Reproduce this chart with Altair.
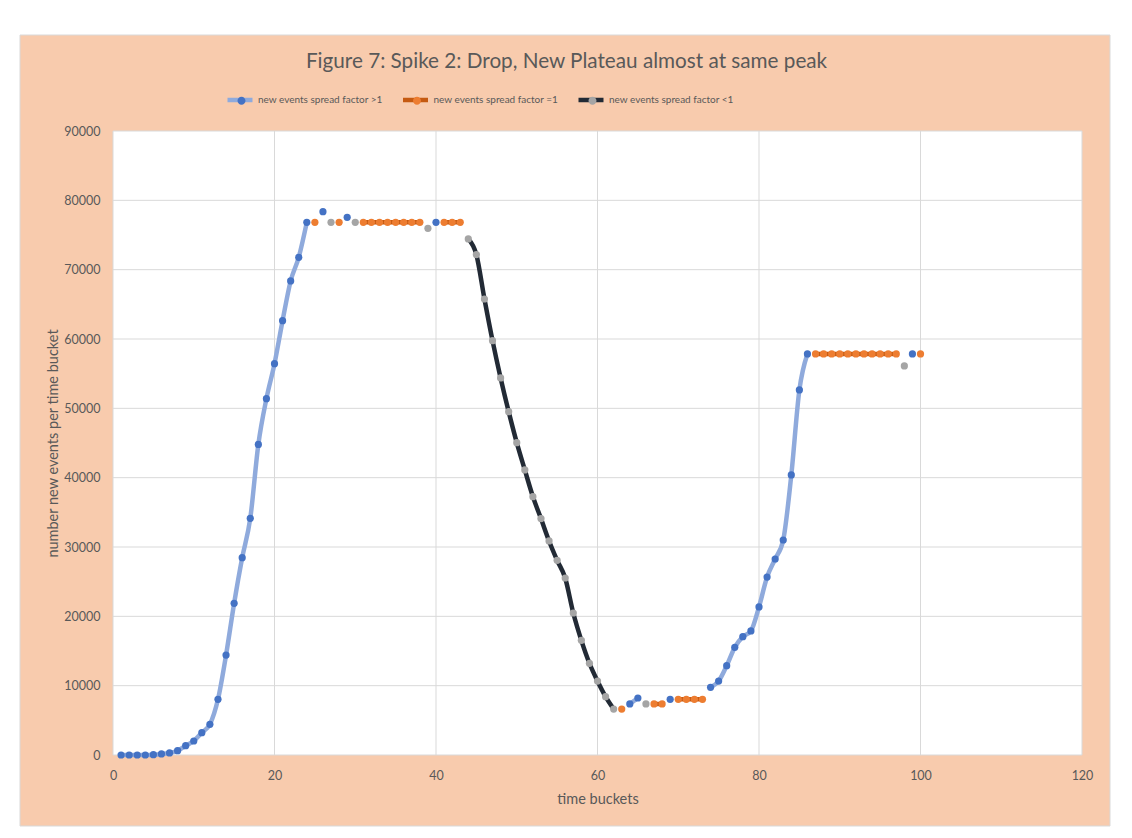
import altair as alt
import pandas as pd

# ---------------- data ----------------
buckets = list(range(1, 101))

values = [
    0, 0, 0, 0, 50, 150, 300, 620, 1340, 2020,                 # 1-10
    3220, 4420, 8030, 14420, 21880, 28460, 34140, 44800, 51390, 56440,   # 11-20
    62640, 68370, 71780, 76830, 76830, 78370, 76830, 76830, 77550, 76830,  # 21-30
    76830, 76830, 76830, 76830, 76830, 76830, 76830, 76830, 75960, 76830,  # 31-40
    76830, 76830, 76830, 74430, 72170, 65770, 59760, 54380, 49520, 45050,  # 41-50
    41110, 37260, 34100, 30870, 28080, 25530, 20480, 16540, 13230, 10670,  # 51-60
    8410, 6630, 6630, 7360, 8220, 7360, 7360, 7360, 8030, 8030,            # 61-70
    8030, 8030, 8030, 9760, 10670, 12880, 15530, 17070, 17890, 21350,      # 71-80
    25670, 28270, 31010, 40390, 52650, 57840, 57840, 57840, 57840, 57840,  # 81-90
    57840, 57840, 57840, 57840, 57840, 57840, 57840, 56110, 57840, 57840,  # 91-100
]

spread = [
    ">1", ">1", ">1", ">1", ">1", ">1", ">1", ">1", ">1", ">1",
    ">1", ">1", ">1", ">1", ">1", ">1", ">1", ">1", ">1", ">1",
    ">1", ">1", ">1", ">1", "=1", ">1", "<1", "=1", ">1", "<1",
    "=1", "=1", "=1", "=1", "=1", "=1", "=1", "=1", "<1", ">1",
    "=1", "=1", "=1", "<1", "<1", "<1", "<1", "<1", "<1", "<1",
    "<1", "<1", "<1", "<1", "<1", "<1", "<1", "<1", "<1", "<1",
    "<1", "<1", "=1", ">1", ">1", "<1", "=1", "=1", ">1", "=1",
    "=1", "=1", "=1", ">1", ">1", ">1", ">1", ">1", ">1", ">1",
    ">1", ">1", ">1", ">1", ">1", ">1", "=1", "=1", "=1", "=1",
    "=1", "=1", "=1", "=1", "=1", "=1", "=1", "<1", ">1", "=1",
]

series_codes = [">1", "=1", "<1"]
series_labels = ["new events spread factor >1",
                 "new events spread factor =1",
                 "new events spread factor <1"]
line_colors = ["#8FAADC", "#C55A11", "#222A35"]
marker_colors = ["#4472C4", "#ED7D31", "#A5A5A5"]

x_ticks = [0, 20, 40, 60, 80, 100, 120]
y_ticks = [0, 10000, 20000, 30000, 40000, 50000, 60000, 70000, 80000, 90000]

title_text = "Figure 7: Spike 2: Drop, New Plateau almost at same peak"
x_title = "time buckets"
y_title = "number new events per time bucket"

# ---------------- build table ----------------
label_of = dict(zip(series_codes, series_labels))
seg_ids = []
s = 0
for i, c in enumerate(spread):
    if i > 0 and c != spread[i - 1]:
        s += 1
    seg_ids.append(s)

df = pd.DataFrame({
    "bucket": buckets,
    "value": values,
    "series": [label_of[c] for c in spread],
    "seg": seg_ids,
})
df["series_m"] = df["series"]
seg_len = df.groupby("seg")["bucket"].transform("count")
df_lines = df[seg_len >= 2]

# ---------------- chart ----------------
W, H = 969, 624
FONT = "Lato"
TXT = "#595959"
GRID = "#D9D9D9"
PEACH = "#F8CBAD"

x_scale = alt.Scale(domain=[0, 120], nice=False, zero=True)
y_scale = alt.Scale(domain=[0, 90000], nice=False, zero=True)

x_axis = alt.Axis(values=x_ticks, grid=False, domain=False, ticks=False,
                  labelFont=FONT, labelFontSize=12.5, labelColor=TXT,
                  labelPadding=14, labelFlush=False,
                  title=x_title, titleFont=FONT, titleFontSize=14.5,
                  titleFontWeight="normal", titleColor=TXT, titlePadding=11)
y_axis = alt.Axis(values=y_ticks, format="d", grid=False, domain=False, ticks=False,
                  labelFont=FONT, labelFontSize=12.5, labelColor=TXT,
                  labelPadding=13, labelFlush=False,
                  title=y_title, titleFont=FONT, titleFontSize=14.5,
                  titleFontWeight="normal", titleColor=TXT, titlePadding=3)

one_row = alt.Data(values=[{"k": 1}])


def strip(x0, x1, y0, y1):
    return alt.Chart(one_row).mark_rect(fill="white").encode(
        x=alt.value(x0), x2=alt.value(x1), y=alt.value(y0), y2=alt.value(y1))


# white page margins around the peach chart area
m_top = strip(-113, 1019, -131, -96)
m_bottom = strip(-113, 1019, 695, 707)
m_left = strip(-113, -93, -131, 707)
m_right = strip(997, 1019, -131, 707)
frame = alt.Chart(one_row).mark_rect(
    fill="white", fillOpacity=0, stroke="#D9D9D9", strokeWidth=1
).encode(x=alt.value(-93), x2=alt.value(997), y=alt.value(-96), y2=alt.value(695))

plot_bg = alt.Chart(one_row).mark_rect(fill="white").encode(
    x=alt.value(0), x2=alt.value("width"), y=alt.value(0), y2=alt.value("height"))

vgrid = alt.Chart(pd.DataFrame({"t": x_ticks})).mark_rule(
    color=GRID, strokeWidth=1).encode(x=alt.X("t:Q", scale=x_scale, axis=x_axis))
hgrid = alt.Chart(pd.DataFrame({"t": y_ticks})).mark_rule(
    color=GRID, strokeWidth=1).encode(y=alt.Y("t:Q", scale=y_scale, axis=y_axis))

leg_common = dict(orient="none", direction="horizontal",
                  title=None, symbolSize=625, labelFont=FONT, labelFontSize=10,
                  labelColor=TXT, labelOffset=3, padding=0, symbolOpacity=1)

lines = alt.Chart(df_lines).mark_line(
    interpolate="monotone", strokeWidth=4.5, strokeCap="round", strokeJoin="round"
).encode(
    x=alt.X("bucket:Q", scale=x_scale, axis=x_axis),
    y=alt.Y("value:Q", scale=y_scale, axis=y_axis),
    stroke=alt.Stroke("series:N",
                      scale=alt.Scale(domain=series_labels, range=line_colors),
                      legend=alt.Legend(symbolType="stroke", symbolStrokeWidth=4.5,
                                        columnPadding=10.5, legendX=112, legendY=-46,
                                        zindex=1, **leg_common)),
    detail="seg:N",
    order="bucket:Q",
)

# marker symbol for the legend: a dot, with invisible extents matching the line symbol
circle_path = ("M-1.36,-0.36L-1.36,0.36Z M1.36,-0.36L1.36,0.36Z "
               "M0.32,0A0.32,0.32 0 1,1 -0.32,0A0.32,0.32 0 1,1 0.32,0Z")
points = alt.Chart(df).mark_circle(size=52, opacity=1).encode(
    x=alt.X("bucket:Q", scale=x_scale, axis=x_axis),
    y=alt.Y("value:Q", scale=y_scale, axis=y_axis),
    fill=alt.Fill("series_m:N", sort=series_labels,
                  scale=alt.Scale(range=marker_colors),
                  legend=alt.Legend(symbolType=circle_path, symbolStrokeWidth=0,
                                    labelExpr="''", columnPadding=140.5,
                                    legendX=116, legendY=-43,
                                    zindex=2, **leg_common)),
)

chart = alt.layer(m_top, m_bottom, m_left, m_right, frame, plot_bg,
                  vgrid, hgrid, lines, points).properties(
    width=W, height=H,
    title=alt.Title(title_text, font=FONT, fontSize=20.7, fontWeight="normal",
                    color=TXT, anchor="middle", offset=-72.5, dx=-31),
    autosize=alt.AutoSizeParams(type="none"),
    padding={"left": 113, "top": 131, "right": 50, "bottom": 83},
).configure(background=PEACH).configure_view(stroke=None)

chart.save("out.html", embed_options={"renderer": "svg", "actions": False})
